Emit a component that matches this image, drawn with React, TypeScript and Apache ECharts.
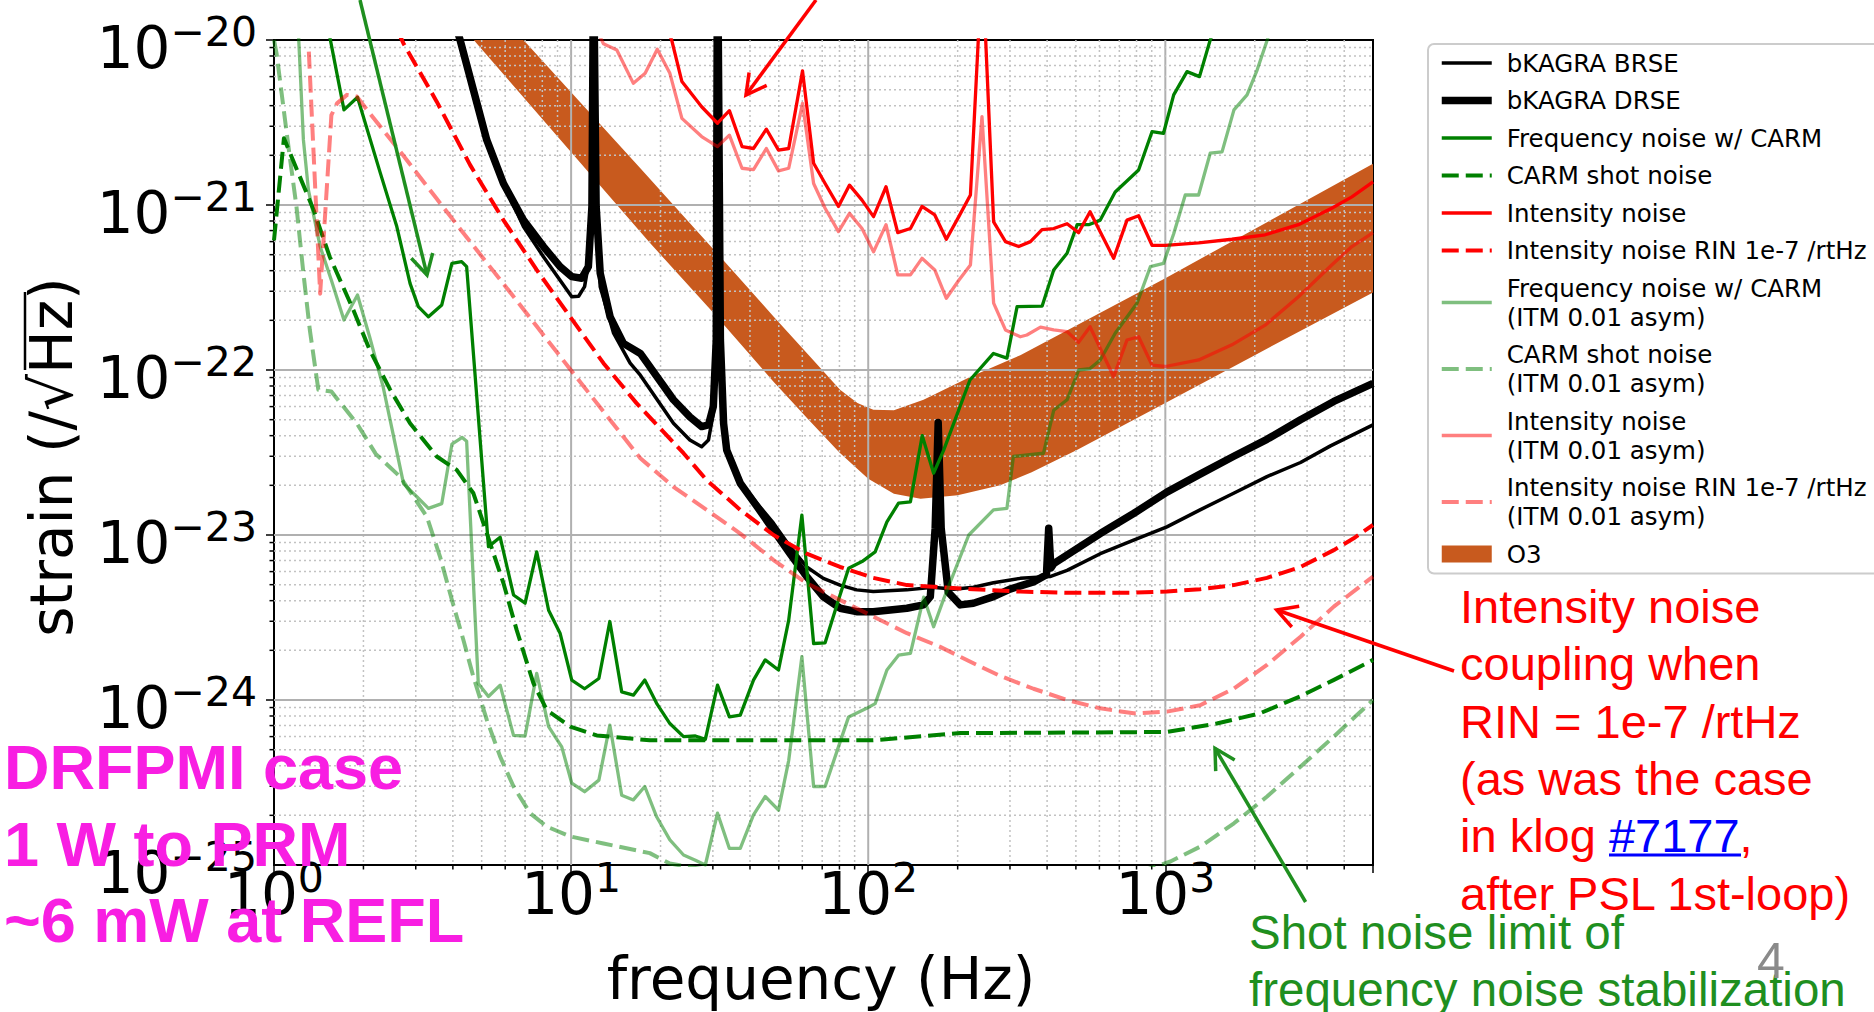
import React, { useEffect, useRef, useState } from "react";
import * as echarts from "echarts";

const F_MIN = 1;
const F_MAX = 5000;
const H_MIN = 1e-25;
const H_MAX = 1e-20;

const GREEN = "#008000";
const RED = "#ff0000";
const LGREEN = "rgba(0,128,0,0.5)";
const LRED = "rgba(255,0,0,0.5)";
const O3_COLOR = "#c85a1e";
const ANNO_GREEN = "#1f8f1f";
const MAGENTA = "#f81ee2";

const DASH = [17, 7];

// ---- series values: [frequency (Hz), strain (/rtHz)] ----
const brse = [
  [4.0, 1.4e-20], [4.23, 1.0e-20], [4.69, 4.98e-21], [5.2, 2.48e-21], [5.92, 1.35e-21],
  [6.91, 7.4e-22], [8.07, 4.86e-22], [9.18, 3.5e-22], [10.05, 2.78e-22], [10.6, 2.8e-22],
  [11.1, 3.2e-22], [11.6, 5.1e-22], [11.9, 3e-20], [12.14, 9.8e-22], [12.53, 3.2e-22],
  [13.9, 1.67e-22], [15.8, 1.1e-22], [17.1, 9.3e-23], [22.1, 4.75e-23], [25.1, 3.77e-23],
  [27.5, 3.43e-23], [29.0, 3.77e-23], [30.1, 5.46e-23], [30.8, 1.52e-22], [31.1, 5e-20],
  [31.8, 1.52e-22], [32.6, 4.75e-23], [33.4, 3.27e-23], [37.1, 2.1e-23], [42.2, 1.56e-23],
  [48, 1.18e-23], [54.6, 8.5e-24], [62.1, 6.4e-24], [70.6, 5.46e-24], [80.4, 4.97e-24],
  [91.4, 4.65e-24], [104, 4.54e-24], [135, 4.65e-24], [165, 4.82e-24], [194, 4.69e-24],
  [226, 4.82e-24], [264, 5.14e-24], [325, 5.46e-24], [409, 5.6e-24], [467, 6.1e-24],
  [604, 7.7e-24], [782, 9.3e-24], [1012, 1.12e-23], [1309, 1.42e-23], [1698, 1.79e-23],
  [2198, 2.26e-23], [2851, 2.75e-23], [3597, 3.47e-23], [5000, 4.65e-23],
];

const drse = [
  [4.0, 1.4e-20], [4.23, 1.0e-20], [4.69, 4.98e-21], [5.2, 2.48e-21], [5.92, 1.35e-21],
  [6.91, 8.1e-22], [8.07, 5.6e-22], [9.18, 4.23e-22], [10.05, 3.68e-22], [10.86, 3.6e-22],
  [11.43, 4.23e-22], [11.75, 9.8e-22], [11.9, 3e-20], [12.14, 9.8e-22], [12.53, 3.86e-22],
  [13.53, 2.1e-22], [15.0, 1.45e-22], [17.1, 1.26e-22], [22.1, 6.6e-23], [25.1, 5.2e-23],
  [27.5, 4.54e-23], [29.0, 4.65e-23], [30.1, 6.0e-23], [30.8, 1.52e-22], [31.1, 5e-20],
  [31.8, 1.52e-22], [32.6, 4.75e-23], [33.4, 3.27e-23], [37.1, 2.06e-23], [42.2, 1.49e-23],
  [48, 1.07e-23], [54.6, 7.7e-24], [62.1, 5.6e-24], [70.6, 4.23e-24], [80.4, 3.6e-24],
  [91.4, 3.43e-24], [104, 3.43e-24], [135, 3.6e-24], [153.5, 3.77e-24], [161.8, 4.23e-24],
  [168, 1.1e-23], [172, 4.8e-23], [176, 1.1e-23], [186, 4.5e-24], [204, 3.77e-24],
  [226, 3.86e-24], [264, 4.23e-24], [300, 4.7e-24], [360, 5.2e-24], [398, 5.75e-24],
  [405, 1.1e-23], [412, 6.3e-24], [421, 6.7e-24], [604, 1.02e-23], [782, 1.35e-23],
  [1012, 1.82e-23], [1309, 2.34e-23], [1700, 3.0e-23], [2198, 3.8e-23], [2851, 5.0e-23],
  [3690, 6.45e-23], [5000, 8.3e-23],
];

const freqNoise = [
  [1.54, 1.05e-20], [1.72, 3.77e-21], [1.91, 4.5e-21], [2.28, 1.56e-21], [2.59, 7.4e-22],
  [2.87, 3.35e-22], [3.06, 2.42e-22], [3.31, 2.1e-22], [3.67, 2.48e-22], [3.97, 4.43e-22],
  [4.28, 4.54e-22], [4.45, 4.23e-22], [5.27, 8.5e-24], [5.77, 9.7e-24], [6.4, 4.33e-24],
  [7.0, 3.86e-24], [7.66, 7.9e-24], [8.4, 3.5e-24], [9.18, 2.54e-24], [10.05, 1.32e-24],
  [11.1, 1.17e-24], [12.4, 1.35e-24], [13.5, 2.99e-24], [14.8, 1.12e-24], [16.2, 1.07e-24],
  [17.7, 1.32e-24], [19.4, 9.55e-25], [21.5, 7.2e-25], [23.9, 6.0e-25], [26.2, 6.05e-25],
  [28.3, 5.78e-25], [31.1, 1.23e-24], [34.1, 7.9e-25], [37.1, 8.1e-25], [41.1, 1.32e-24],
  [45, 1.75e-24], [49.9, 1.52e-24], [54, 3.05e-24], [59.8, 1.32e-23], [65.5, 2.2e-24],
  [71.6, 2.22e-24], [79.4, 4.04e-24], [85.9, 6.28e-24], [95.3, 6.9e-24], [105.5, 7.9e-24],
  [115.6, 1.2e-23], [126.5, 1.56e-23], [138.7, 1.59e-23], [152, 4.0e-23], [166, 2.37e-23],
  [179.5, 3.27e-23], [220, 8.7e-23], [264, 1.26e-22], [293, 1.18e-22], [317, 2.42e-22],
  [385, 2.44e-22], [421, 4.04e-22], [467, 5.1e-22], [505, 7.6e-22], [552, 7.6e-22],
  [604, 8.1e-22], [678, 1.2e-21], [813, 1.63e-21], [902, 2.78e-21], [986, 2.72e-21],
  [1067, 4.65e-21], [1183, 6.43e-21], [1303, 6.0e-21], [1416, 1.0e-20], [1500, 1.3e-20],
];

const carmShot = [
  [1.0, 6.1e-22], [1.08, 2.54e-21], [1.36, 9.3e-22], [1.54, 4.86e-22], [1.85, 2.31e-22],
  [2.1, 1.32e-22], [2.46, 7.6e-23], [2.87, 4.75e-23], [3.53, 2.99e-23], [4.12, 2.48e-23],
  [4.69, 1.79e-23], [5.34, 8.9e-24], [5.92, 5.1e-24], [6.56, 2.65e-24], [7.47, 1.26e-24],
  [8.28, 8.7e-25], [9.93, 6.9e-25], [12.2, 6.1e-25], [18.4, 5.7e-25], [50, 5.7e-25],
  [104, 5.7e-25], [204, 6.3e-25], [500, 6.35e-25], [1012, 6.4e-25], [1490, 7.2e-25],
  [2080, 8.3e-25], [2838, 1.05e-24], [3680, 1.32e-24], [5000, 1.75e-24],
];

const intensity = [
  [20.5, 1.3e-20], [21.8, 1.0e-20], [23.6, 5.6e-21], [27.5, 3.94e-21], [31.1, 3.13e-21],
  [34.1, 3.73e-21], [37.6, 2.26e-21], [41.1, 2.2e-21], [45.4, 2.88e-21], [49.9, 2.15e-21],
  [54, 2.2e-21], [60.1, 6.5e-21], [65.5, 1.79e-21], [71.6, 1.35e-21], [79.4, 9.8e-22],
  [86.5, 1.32e-21], [95.3, 1.07e-21], [104.2, 8.5e-22], [114.8, 1.29e-21], [125.7, 6.8e-22],
  [138.7, 7.2e-22], [151.7, 9.8e-22], [167.5, 8.7e-22], [183.2, 6.2e-22], [201.8, 8.5e-22],
  [220.8, 1.15e-21], [242, 3e-20], [264.3, 7.9e-22], [289.7, 6.0e-22], [321, 5.6e-22],
  [351.6, 6.0e-22], [384.6, 7.1e-22], [421, 7.2e-22], [467, 7.7e-22], [510.5, 6.8e-22],
  [558, 9.1e-22], [670, 4.75e-22], [743, 8.1e-22], [813, 8.6e-22], [902, 5.7e-22],
  [1000, 5.7e-22], [1295, 5.9e-22], [1675, 6.2e-22], [2168, 6.6e-22], [2806, 7.6e-22],
  [3631, 9.55e-22], [4246, 1.12e-21], [5000, 1.38e-21],
];

const rin = [
  [2.6, 1.15e-20], [2.73, 9.5e-21], [3.53, 4.23e-21], [4.57, 1.75e-21], [5.92, 8.1e-22],
  [7.66, 4.04e-22], [9.93, 2.1e-22], [12.85, 1.1e-22], [16.6, 6.3e-23], [23.9, 3.13e-23],
  [28.6, 2.15e-23], [37.1, 1.42e-23], [48, 1.0e-23], [62.1, 7.7e-24], [80.4, 6.4e-24],
  [104, 5.5e-24], [135, 4.97e-24], [174.6, 4.82e-24], [226, 4.69e-24], [325, 4.54e-24],
  [467, 4.47e-24], [782, 4.47e-24], [1012, 4.54e-24], [1309, 4.69e-24], [1698, 4.97e-24],
  [2198, 5.5e-24], [2851, 6.4e-24], [3690, 8.1e-24], [4305, 9.55e-24], [5000, 1.15e-23],
];

const freqNoiseAsym = [
  [1.21, 1.05e-20], [1.256, 2.48e-21], [1.306, 1.23e-21], [1.43, 5.6e-22], [1.56, 3.5e-22],
  [1.72, 2.01e-22], [1.91, 2.85e-22], [2.1, 1.58e-22], [2.33, 7.9e-23], [2.73, 2.04e-23],
  [3.02, 1.71e-23], [3.31, 1.45e-23], [3.67, 1.55e-23], [3.97, 3.55e-23], [4.3, 3.9e-23],
  [4.45, 3.7e-23], [4.87, 1.26e-24], [5.27, 1.05e-24], [5.77, 1.23e-24], [6.4, 6.1e-25],
  [7.0, 6.05e-25], [7.66, 1.45e-24], [8.4, 6.9e-25], [9.3, 5.2e-25], [10.05, 3.13e-25],
  [11.1, 2.78e-25], [12.4, 3.27e-25], [13.5, 7.05e-25], [14.8, 2.65e-25], [16.2, 2.48e-25],
  [17.7, 2.99e-25], [19.4, 1.96e-25], [21.5, 1.42e-25], [23.9, 1.15e-25], [26.2, 1.07e-25],
  [28.3, 1.0e-25], [31.1, 2.06e-25], [34.1, 1.26e-25], [37.1, 1.26e-25], [41.1, 2.01e-25],
  [45, 2.6e-25], [49.9, 2.15e-25], [54, 4.3e-25], [59.8, 1.83e-24], [65.5, 2.99e-25],
  [71.6, 2.99e-25], [79.4, 5.2e-25], [85.9, 7.9e-25], [98.8, 8.9e-25], [105.5, 9.5e-25],
  [115.6, 1.52e-24], [126.5, 1.87e-24], [138.7, 1.92e-24], [153.7, 4.2e-24], [166, 2.78e-24],
  [179.5, 4.1e-24], [218, 1.0e-23], [264, 1.42e-23], [293, 1.45e-23], [308, 2.99e-23],
  [389, 3.13e-23], [421, 5.7e-23], [467, 6.6e-23], [511, 1.0e-22], [558, 1.02e-22],
  [604, 1.15e-22], [678, 1.67e-22], [803, 2.54e-22], [891, 4.23e-22], [986, 4.43e-22],
  [1067, 6.7e-22], [1167, 1.15e-21], [1294, 1.15e-21], [1416, 2.06e-21], [1552, 2.1e-21],
  [1702, 3.77e-21], [1884, 4.65e-21], [2038, 6.6e-21], [2203, 1.0e-20], [2300, 1.3e-20],
];

const carmShotAsym = [
  [1.0, 1.0e-20], [1.02, 8.3e-21], [1.075, 3.94e-21], [1.13, 1.96e-21], [1.19, 9.8e-22],
  [1.256, 3.86e-22], [1.32, 1.75e-22], [1.41, 7.6e-23], [1.56, 7.4e-23], [1.9, 4.75e-23],
  [2.2, 3.1e-23], [2.66, 2.25e-23], [3.27, 1.29e-23], [3.62, 7.4e-24], [3.97, 4.04e-24],
  [4.34, 2.31e-24], [4.69, 1.38e-24], [5.2, 7.6e-25], [5.77, 4.54e-25], [6.4, 2.99e-25],
  [7.28, 2.06e-25], [8.28, 1.71e-25], [9.93, 1.49e-25], [12.85, 1.35e-25], [18.4, 1.18e-25],
  [21.5, 1.02e-25], [30, 9.2e-26], [100, 7e-26], [300, 6.5e-26], [600, 7.5e-26],
  [1040, 1.05e-25], [1309, 1.29e-25], [1702, 1.79e-25], [2200, 2.6e-25], [2849, 3.94e-25],
  [3690, 6.0e-25], [5000, 1.0e-24],
];

const intensityAsym = [
  [11.8, 1.3e-20], [12.85, 9.5e-21], [14.25, 8.7e-21], [16.2, 5.46e-21], [17.75, 6.28e-21],
  [19.5, 8.8e-21], [21.5, 6.28e-21], [23.6, 3.35e-21], [27.5, 2.6e-21], [31.1, 2.26e-21],
  [34.1, 2.65e-21], [37.6, 1.67e-21], [41.1, 1.64e-21], [45.4, 2.2e-21], [49.9, 1.61e-21],
  [54, 1.67e-21], [60.1, 4.13e-21], [65.5, 1.35e-21], [71.6, 9.55e-22], [79.4, 6.9e-22],
  [86.5, 8.9e-22], [95.3, 7.2e-22], [104.2, 5.2e-22], [114.8, 7.6e-22], [125.7, 3.77e-22],
  [138.7, 3.77e-22], [151.7, 4.75e-22], [167.5, 4.04e-22], [183.2, 2.72e-22], [201.8, 3.5e-22],
  [220.8, 4.33e-22], [241.5, 3.43e-21], [264.3, 2.54e-22], [289.7, 1.75e-22], [325, 1.59e-22],
  [342, 1.63e-22], [380, 1.82e-22], [421, 1.75e-22], [467, 1.71e-22], [510.5, 1.47e-22],
  [558, 1.83e-22], [670, 9.1e-23], [743, 1.52e-22], [813, 1.59e-22], [902, 1.07e-22],
  [1000, 1.05e-22], [1295, 1.15e-22], [1675, 1.42e-22], [2168, 1.87e-22], [2806, 2.78e-22],
  [3631, 4.33e-22], [4246, 5.6e-22], [5000, 6.8e-22],
];

const rinAsym = [
  [1.31, 8.5e-21], [1.43, 2.9e-22], [1.56, 3.5e-21], [1.63, 4.13e-21], [1.76, 4.65e-21],
  [1.9, 4.54e-21], [2.1, 3.6e-21], [2.72, 2.0e-21], [3.53, 1.09e-21], [4.57, 6.0e-22],
  [5.92, 3.33e-22], [7.66, 1.84e-22], [9.93, 1.01e-22], [12.85, 5.6e-23], [17.1, 2.92e-23],
  [22.1, 1.96e-23], [28.6, 1.42e-23], [37.1, 1.02e-23], [48, 7.05e-24], [62.1, 5.1e-24],
  [80.4, 4.04e-24], [104, 3.2e-24], [135, 2.54e-24], [174.6, 2.1e-24], [226, 1.67e-24],
  [278, 1.4e-24], [360, 1.17e-24], [467, 1.0e-24], [604, 8.9e-25], [782, 8.3e-25],
  [1012, 8.5e-25], [1309, 9.3e-25], [1698, 1.17e-24], [2198, 1.63e-24], [2851, 2.42e-24],
  [3690, 3.68e-24], [5000, 5.6e-24],
];

const o3Upper = [
  [5.0, 1.78e-20], [7.1, 9.5e-21], [17.1, 1.67e-21], [31.6, 4.9e-22], [48, 2.11e-22],
  [63.1, 1.23e-22], [80.4, 7.6e-23], [92, 6.3e-23], [104, 5.75e-23], [122, 5.7e-23],
  [153.5, 6.6e-23], [221, 9.1e-23], [325, 1.23e-22], [1000, 3.6e-22], [5000, 1.78e-21],
];
const o3Lower = [
  [4.0, 1.41e-20], [4.82, 9.5e-21], [18.4, 5.9e-22], [30, 2.24e-22], [48, 8.5e-23],
  [63, 5.0e-23], [80, 3.16e-23], [100, 2.19e-23], [122, 1.78e-23], [150, 1.66e-23],
  [200, 1.74e-23], [278, 2.0e-23], [355, 2.4e-23], [504, 3.27e-23], [1000, 6.3e-23],
  [2000, 1.23e-22], [5000, 2.95e-22],
];

// ---- axis structure ----
const DECADES_X = [1, 10, 100, 1000];
const DECADES_Y = [1e-25, 1e-24, 1e-23, 1e-22, 1e-21];
const MINOR_MULT = [2, 3, 4, 5, 6, 7, 8, 9];
const Y_MIN_LABEL = "{b|10}{s|\u221225}";

const gridData: number[][] = [];
DECADES_X.forEach((d) => {
  if (d > F_MIN) gridData.push([d, 1e-22, 0]);
  MINOR_MULT.forEach((m) => {
    const v = d * m;
    if (v < F_MAX) gridData.push([v, 1e-22, 1]);
  });
});
DECADES_Y.forEach((d) => {
  if (d > H_MIN) gridData.push([10, d, 2]);
  MINOR_MULT.forEach((m) => gridData.push([10, d * m, 3]));
});

const LINES = [
  { name: "bKAGRA BRSE", data: brse, color: "#000000", width: 3.5, dash: null },
  { name: "bKAGRA DRSE", data: drse, color: "#000000", width: 7.5, dash: null },
  { name: "Frequency noise w/ CARM", data: freqNoise, color: GREEN, width: 3.3, dash: null },
  { name: "CARM shot noise", data: carmShot, color: GREEN, width: 4, dash: DASH },
  { name: "Intensity noise", data: intensity, color: RED, width: 3.3, dash: null },
  { name: "Intensity noise RIN 1e-7 /rtHz", data: rin, color: RED, width: 4, dash: DASH },
  { name: "Frequency noise w/ CARM\n(ITM 0.01 asym)", data: freqNoiseAsym, color: LGREEN, width: 3.3, dash: null },
  { name: "CARM shot noise\n(ITM 0.01 asym)", data: carmShotAsym, color: LGREEN, width: 4, dash: DASH },
  { name: "Intensity noise\n(ITM 0.01 asym)", data: intensityAsym, color: LRED, width: 3.3, dash: null },
  { name: "Intensity noise RIN 1e-7 /rtHz\n(ITM 0.01 asym)", data: rinAsym, color: LRED, width: 4, dash: DASH },
];

const tickLabel = (v: number) => {
  const e = Math.log10(v);
  const r = Math.round(e);
  if (Math.abs(e - r) > 1e-6) return "";
  return `{b|10}{s|${r < 0 ? "\u2212" : ""}${Math.abs(r)}}`;
};

const AX_FONT = "DejaVu Sans";
const TXT_FONT = "Liberation Sans";

const Y_RICH = {
  b: { fontSize: 58, lineHeight: 58, fontFamily: AX_FONT, color: "#000", fill: "#000", padding: [15, 0, 0, 0] },
  s: { fontSize: 41, lineHeight: 41, fontFamily: AX_FONT, color: "#000", fill: "#000", padding: [0, 0, 17, 0] },
};

function buildOption(): any {
  const lineSeries = LINES.map((l) => ({
    type: "line",
    name: l.name,
    data: l.data,
    symbol: "none",
    showSymbol: false,
    silent: true,
    z: 3,
    clip: true,
    itemStyle: { color: l.color },
    lineStyle: {
      color: l.color,
      width: l.width,
      type: l.dash ? l.dash : "solid",
      cap: "butt",
      join: "round",
    },
  }));

  const bandSeries = {
    type: "custom",
    name: "O3",
    coordinateSystem: "cartesian2d",
    clip: true,
    silent: true,
    z: 1,
    itemStyle: { color: O3_COLOR },
    encode: { x: 0, y: 1 },
    data: [[10, 1e-22]],
    renderItem: (params: any, api: any) => {
      const pts = o3Upper
        .map((p) => api.coord(p))
        .concat(o3Lower.slice().reverse().map((p) => api.coord(p)));
      return { type: "polygon", shape: { points: pts }, style: { fill: O3_COLOR } };
    },
  };

  const gridSeries = {
    type: "custom",
    name: "__grid",
    coordinateSystem: "cartesian2d",
    clip: false,
    silent: true,
    z: 2,
    encode: { x: 0, y: 1 },
    data: gridData,
    renderItem: (params: any, api: any) => {
      const cs = params.coordSys;
      const kind = api.value(2);
      const major = kind === 0 || kind === 2;
      const style = major
        ? { stroke: "#b0b0b0", lineWidth: 2 }
        : { stroke: "#c2c2c2", lineWidth: 1.5, lineDash: [2, 3] };
      const tickStyle = { stroke: "#000", lineWidth: 1.5 };
      const children: any[] = [];
      if (kind < 2) {
        const x = api.coord([api.value(0), 1e-22])[0];
        children.push({ type: "line", shape: { x1: x, y1: cs.y, x2: x, y2: cs.y + cs.height }, style });
        if (!major)
          children.push({
            type: "line",
            shape: { x1: x, y1: cs.y + cs.height, x2: x, y2: cs.y + cs.height + 4.5 },
            style: tickStyle,
          });
      } else {
        const y = api.coord([10, api.value(1)])[1];
        children.push({ type: "line", shape: { x1: cs.x, y1: y, x2: cs.x + cs.width, y2: y }, style });
        if (!major)
          children.push({
            type: "line",
            shape: { x1: cs.x - 4.5, y1: y, x2: cs.x, y2: y },
            style: tickStyle,
          });
      }
      return { type: "group", children };
    },
  };

  const legendData: any[] = LINES.map((l) => ({
    name: l.name,
    lineStyle: { color: l.color, width: l.width, type: l.dash ? l.dash : "solid", cap: "butt" },
    itemStyle: { color: l.color, opacity: 0 },
  }));
  legendData.push({ name: "O3", icon: "rect", itemStyle: { color: O3_COLOR } });

  const arrow = (x0: number, y0: number, x1: number, y1: number, w1: number[], w2: number[], color: string) => [
    { type: "line", z: 100, shape: { x1: x0, y1: y0, x2: x1, y2: y1 }, style: { stroke: color, lineWidth: 3.5 } },
    {
      type: "polyline",
      z: 100,
      shape: { points: [w1, [x1, y1], w2] },
      style: { stroke: color, lineWidth: 3.5, fill: null, lineJoin: "miter" },
    },
  ];

  return {
    animation: false,
    backgroundColor: "#ffffff",
    grid: {
      left: 274,
      top: 40,
      width: 1099,
      height: 825,
      show: true,
      borderColor: "#000",
      borderWidth: 2,
      backgroundColor: "transparent",
      outerBoundsMode: "none",
    },
    xAxis: {
      type: "log",
      logBase: 10,
      min: F_MIN,
      max: F_MAX,
      axisLine: { show: true, lineStyle: { color: "#000", width: 2 } },
      axisTick: { show: true, inside: false, length: 8, lineStyle: { color: "#000", width: 1.5 } },
      splitLine: { show: false },
      axisLabel: {
        formatter: tickLabel,
        margin: 0,
        showMinLabel: true,
        hideOverlap: false,
        rich: {
          b: { fontSize: 58, lineHeight: 58, fontFamily: AX_FONT, color: "#000" },
          s: { fontSize: 41, lineHeight: 41, fontFamily: AX_FONT, color: "#000", padding: [0, 0, 32, 0] },
        },
      },
    },
    yAxis: {
      type: "log",
      logBase: 10,
      min: H_MIN,
      max: H_MAX,
      axisLine: { show: true, lineStyle: { color: "#000", width: 2 } },
      axisTick: { show: true, inside: false, length: 8, lineStyle: { color: "#000", width: 1.5 } },
      splitLine: { show: false },
      axisLabel: {
        formatter: tickLabel,
        margin: 17,
        showMinLabel: false,
        showMaxLabel: true,
        hideOverlap: false,
        rich: Y_RICH,
      },
    },
    legend: {
      show: true,
      orient: "vertical",
      left: 1428,
      top: 44,
      padding: [4.5, 24, 5, 10],
      itemGap: 8.5,
      itemWidth: 50,
      itemHeight: 17,
      selectedMode: false,
      backgroundColor: "#ffffff",
      borderColor: "#cccccc",
      borderWidth: 2,
      borderRadius: 6,
      textStyle: {
        fontFamily: AX_FONT,
        fontSize: 24.5,
        lineHeight: 29,
        color: "#000",
        padding: [0, 0, 0, 10],
      },
      data: legendData,
    },
    series: [bandSeries, gridSeries, ...lineSeries],
    graphic: {
      elements: [
        {
          // lowest y tick label (ECharts hides it where it meets the x-axis labels)
          type: "text",
          x: 257,
          y: 865,
          z: 50,
          style: {
            text: Y_MIN_LABEL,
            align: "right",
            verticalAlign: "middle",
            rich: Y_RICH,
          },
        },
        {
          type: "text",
          x: 821,
          y: 979,
          z: 100,
          style: {
            text: "frequency (Hz)",
            fontSize: 58,
            fontFamily: AX_FONT,
            fill: "#000",
            align: "center",
            verticalAlign: "middle",
          },
        },
        {
          type: "text",
          x: 52,
          y: 457,
          rotation: Math.PI / 2,
          z: 100,
          style: {
            text: "strain (/\u221AHz)",
            fontSize: 58,
            fontFamily: AX_FONT,
            fill: "#000",
            align: "center",
            verticalAlign: "middle",
          },
        },
        {
          type: "line",
          z: 100,
          shape: { x1: 25, y1: 370, x2: 25, y2: 292 },
          style: { stroke: "#000", lineWidth: 2.5 },
        },
        ...arrow(360, 0, 427, 275, [411.3, 258.2], [432.7, 253], ANNO_GREEN),
        ...arrow(816, 0, 746, 95, [766.7, 85.4], [749.1, 72.4], RED),
        ...arrow(1454, 671, 1276.7, 610, [1291.8, 627], [1299.2, 606.3], RED),
        ...arrow(1305.6, 902, 1215, 748.3, [1234.7, 759.9], [1215.7, 771.1], ANNO_GREEN),
        {
          type: "text",
          x: 1460,
          y: 577.5,
          z: 100,
          style: {
            text:
              "{r|Intensity noise}\n{r|coupling when}\n{r|RIN = 1e-7 /rtHz}\n{r|(as was the case}\n{r|in klog }{k|#7177}{r|,}\n{r|after PSL 1st-loop)}",
            align: "left",
            verticalAlign: "top",
            rich: {
              r: { fontSize: 47, lineHeight: 57.4, fontFamily: TXT_FONT, fill: RED },
              k: { fontSize: 47, lineHeight: 57.4, fontFamily: TXT_FONT, fill: "#0000ff" },
            },
          },
        },
        {
          type: "line",
          z: 100,
          shape: { x1: 1609, y1: 855, x2: 1741, y2: 855 },
          style: { stroke: "#0000ff", lineWidth: 3 },
        },
        {
          type: "text",
          x: 1249,
          y: 903.5,
          z: 100,
          style: {
            text: "Shot noise limit of\nfrequency noise stabilization",
            fontSize: 47.5,
            lineHeight: 57.4,
            fontFamily: TXT_FONT,
            fill: ANNO_GREEN,
            align: "left",
            verticalAlign: "top",
          },
        },
        {
          type: "text",
          x: 1771,
          y: 961,
          z: 100,
          style: {
            text: "4",
            fontSize: 50,
            fontFamily: TXT_FONT,
            fill: "#8a8a8a",
            align: "center",
            verticalAlign: "middle",
          },
        },
        {
          type: "text",
          x: 4,
          y: 728.75,
          z: 110,
          style: {
            text: "DRFPMI case\n1 W to PRM\n~6 mW at REFL",
            fontSize: 63,
            fontWeight: "bold",
            lineHeight: 76.5,
            fontFamily: TXT_FONT,
            fill: MAGENTA,
            align: "left",
            verticalAlign: "top",
          },
        },
      ],
    },
  };
}

export default function App() {
  const ref = useRef<HTMLDivElement>(null);
  const [err, setErr] = useState("");
  useEffect(() => {
    if (!ref.current) return;
    const onErr = (e: any) => setErr((p) => p + " | " + String(e?.message || e?.reason || e));
    window.addEventListener("error", onErr);
    window.addEventListener("unhandledrejection", onErr);
    const chart = echarts.init(ref.current, undefined, { renderer: "svg" });
    try {
      chart.setOption(buildOption());
    } catch (e: any) {
      setErr(String(e && e.stack ? e.stack : e).slice(0, 600));
    }
    return () => {
      window.removeEventListener("error", onErr);
      window.removeEventListener("unhandledrejection", onErr);
      chart.dispose();
    };
  }, []);
  return (
    <>
      <div
        ref={ref}
        style={{ position: "fixed", left: 0, top: 0, width: "1874px", height: "1012px", background: "#fff" }}
      />
      {err ? (
        <div style={{ position: "fixed", left: 300, top: 300, width: 900, font: "14px monospace", color: "#000", background: "#ff0", zIndex: 10 }}>
          {err}
        </div>
      ) : null}
    </>
  );
}
